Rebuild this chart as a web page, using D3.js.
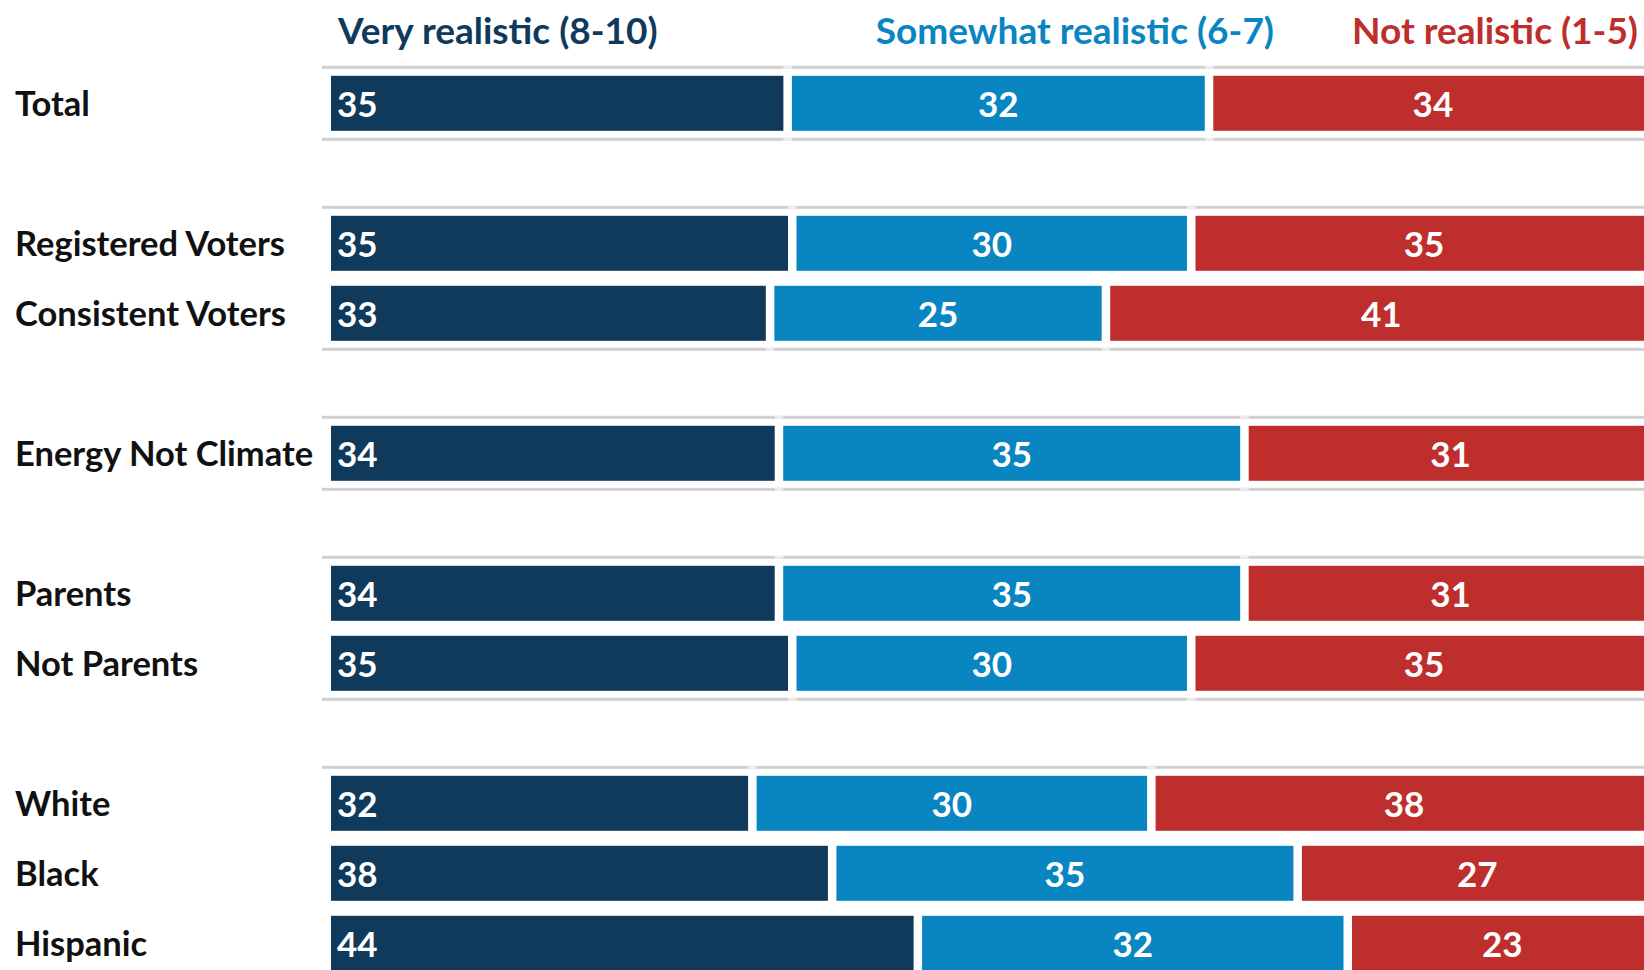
<!DOCTYPE html>
<html>
<head>
<meta charset="utf-8">
<script src="https://cdn.jsdelivr.net/npm/d3@7"></script>
<style>
  body { margin: 0; background: #fff; }
  svg { display: block; font-family: Lato, "Open Sans", sans-serif; font-weight: bold; }
</style>
</head>
<body>
<div id="chart"></div>
<script>
// survey groups (blank row between groups)
var groups = [
  ["Total"],
  ["Registered Voters", "Consistent Voters"],
  ["Energy Not Climate"],
  ["Parents", "Not Parents"],
  ["White", "Black", "Hispanic"]
];
var series = ["Very realistic (8-10)", "Somewhat realistic (6-7)", "Not realistic (1-5)"];
var veryRealistic     = [35, 35, 33, 34, 34, 35, 32, 38, 44];
var somewhatRealistic = [32, 30, 25, 35, 35, 30, 30, 35, 32];
var notRealistic      = [34, 35, 41, 31, 31, 35, 38, 27, 23];

var colors = ["#103a5c", "#0985c2", "#be2e2d"];

var W = 1644, H = 970;
var svg = d3.select("#chart").append("svg").attr("width", W).attr("height", H);

// build rows with a slot index (blank slot between groups)
var rows = [], slot = 0, gi = 0;
groups.forEach(function(g, i) {
  if (i > 0) slot++;
  g.forEach(function(name, j) {
    rows.push({name: name, slot: slot, group: i, first: j == 0, last: j == g.length - 1,
               vals: [veryRealistic[gi], somewhatRealistic[gi], notRealistic[gi]]});
    slot++; gi++;
  });
});

// bars are 100% stacked, so each row is scaled to its own sum
var x = d3.scaleLinear().domain([0, 100]).range([331, 331 + 1330]);
var y = d3.scaleLinear().domain([0, 1]).range([103.3, 173.3]);
var barH = 55, gap = 8.5;

rows.forEach(function(r) {
  var c = 0, tot = d3.sum(r.vals);
  r.segs = r.vals.map(function(v, k) {
    var p = v / tot * 100;
    var s = {k: k, v: v, x0: x(c), x1: x(c + p) - gap};
    c += p;
    return s;
  });
});

// gray separator lines above/below each group
function grayLine(r, yy) {
  svg.append("rect").attr("x", 322).attr("y", yy - 1.5).attr("width", W - 322).attr("height", 3)
    .attr("fill", "#d0d0d0");
  r.segs.slice(1).forEach(function(s) {
    svg.append("rect").attr("x", s.x0 - gap).attr("y", yy - 1.5).attr("width", gap).attr("height", 3)
      .attr("fill", "#ededed");
  });
}
rows.forEach(function(r) {
  if (r.first) grayLine(r, y(r.slot) - 36);
  if (r.last) grayLine(r, y(r.slot) + 36);
});

// bars
var rowG = svg.selectAll("g.row").data(rows).enter().append("g")
  .attr("class", "row")
  .attr("transform", function(d) { return "translate(0," + y(d.slot) + ")"; });

rowG.selectAll("rect.seg").data(function(d) { return d.segs; }).enter().append("rect")
  .attr("class", "seg")
  .attr("x", function(d) { return d.x0; })
  .attr("y", -barH / 2)
  .attr("width", function(d) { return Math.max(0, d.x1 - d.x0); })
  .attr("height", barH)
  .attr("fill", function(d) { return colors[d.k]; });

rowG.selectAll("text.val").data(function(d) { return d.segs; }).enter().append("text")
  .attr("class", "val")
  .attr("x", function(d) { return d.k == 0 ? d.x0 + 6 : (d.x0 + d.x1) / 2; })
  .attr("dy", "0.38em")
  .attr("text-anchor", function(d) { return d.k == 0 ? "start" : "middle"; })
  .attr("fill", "#fff")
  .style("font-size", "35px")
  .text(function(d) { return d.v; });

// category labels
rowG.append("text")
  .attr("x", 15)
  .attr("dy", "0.36em")
  .attr("fill", "#111")
  .style("font-size", "34.5px")
  .text(function(d) { return d.name; });

// column headers
var headX = [338, 1274, 1638], headAnchor = ["start", "end", "end"];
svg.selectAll("text.head").data(series).enter().append("text")
  .attr("class", "head")
  .attr("x", function(d, i) { return headX[i]; })
  .attr("y", 44)
  .attr("text-anchor", function(d, i) { return headAnchor[i]; })
  .attr("fill", function(d, i) { return colors[i]; })
  .style("font-size", "37px")
  .text(function(d) { return d; });
</script>
</body>
</html>
